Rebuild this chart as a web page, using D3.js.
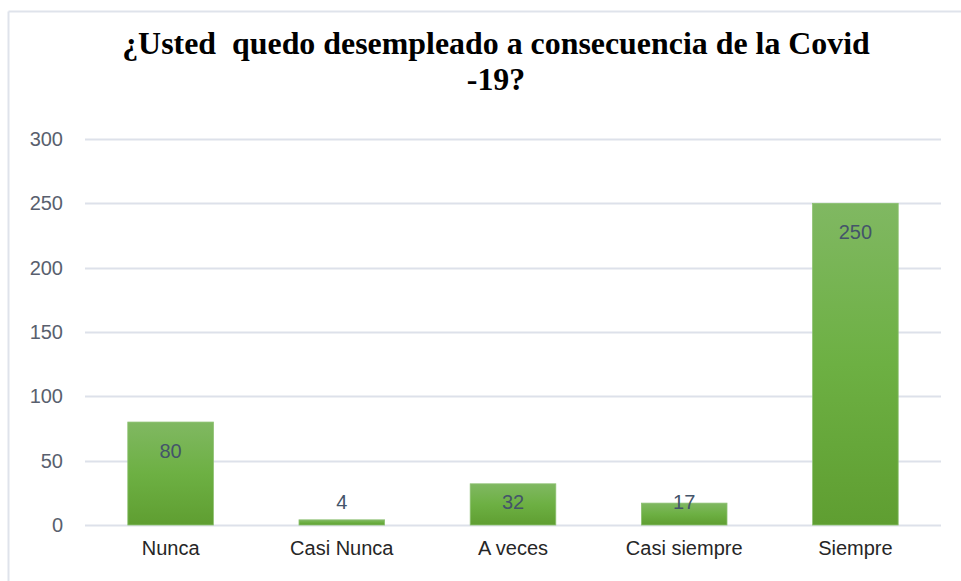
<html lang="es">
<head>
    <meta charset="UTF-8">
    <title>Desempleo Covid-19</title>
    <style>
        body { margin: 0; background: #fff; }
    </style>
</head>
<body>
<script src="https://d3js.org/d3.v7.min.js"></script>
<svg id="bar"></svg>
<script>
    // data
    var categories = ["Nunca", "Casi Nunca", "A veces", "Casi siempre", "Siempre"];
    var counts = [80, 4, 32, 17, 250];
    var yTicks = [0, 50, 100, 150, 200, 250, 300];
    var titleLines = ["¿Usted  quedo desempleado a consecuencia de la Covid", "-19?"];

    var outerWidth = 961, outerHeight = 581,
        margin = {top: 139, right: 20, bottom: 56, left: 85},
        width = 941 - margin.left,
        height = 525 - margin.top;

    var svg = d3.select("#bar")
        .attr("width", outerWidth)
        .attr("height", outerHeight);

    // chart frame (only top and left edges visible in the crop)
    svg.append("line")
        .attr("x1", 8.5).attr("x2", outerWidth).attr("y1", 11.5).attr("y2", 11.5)
        .attr("stroke", "#dfe3eb").attr("stroke-width", 2);
    svg.append("line")
        .attr("x1", 8.5).attr("x2", 8.5).attr("y1", 11.5).attr("y2", outerHeight)
        .attr("stroke", "#dfe3eb").attr("stroke-width", 2);

    // title
    var title = svg.append("g");
    title.selectAll("text")
        .data(titleLines)
        .enter().append("text")
            .attr("x", 0)
            .attr("y", (d, i) => i * 36)
            .attr("text-anchor", "middle")
            .style("white-space", "pre")
            .style("font-family", "'Liberation Serif', 'Times New Roman', serif")
            .style("font-weight", "bold")
            .style("font-size", "32px")
            .attr("fill", "#000")
            .text(d => d);
    var natural = title.select("text").node().getComputedTextLength();
    var sx = 748 / natural;
    title.attr("transform", `translate(496, 54) scale(${sx}, 1)`);

    var g = svg.append("g")
        .attr("transform", `translate(${margin.left}, ${margin.top})`);

    var x = d3.scaleBand()
        .domain(categories)
        .range([0, width])
        .paddingInner(0.5)
        .paddingOuter(0.25);

    var y = d3.scaleLinear()
        .domain([0, 300])
        .range([height, 0]);

    // gridlines
    g.append("g")
        .selectAll("line")
        .data(yTicks)
        .enter().append("line")
            .attr("x1", 0).attr("x2", width)
            .attr("y1", d => Math.round(y(d)) + 0.5)
            .attr("y2", d => Math.round(y(d)) + 0.5)
            .attr("stroke", "#dde1ea")
            .attr("stroke-width", 2);

    // y axis labels
    var yAxis = g.append("g")
        .attr("transform", "translate(-22, 0)")
        .call(d3.axisLeft(y).tickValues(yTicks).tickSize(0).tickPadding(0));
    yAxis.select(".domain").remove();
    yAxis.selectAll("text")
        .style("font-family", "'Liberation Sans', Arial, sans-serif")
        .style("font-size", "20px")
        .attr("fill", "#595f6e");

    // x axis labels
    var xAxis = g.append("g")
        .attr("transform", `translate(0, ${height})`)
        .call(d3.axisBottom(x).tickSize(0).tickPadding(16));
    xAxis.select(".domain").remove();
    xAxis.selectAll("text")
        .style("font-family", "'Liberation Sans', Arial, sans-serif")
        .style("font-size", "20px")
        .attr("fill", "#262626");

    // gradient for bars
    var grad = svg.append("defs").append("linearGradient")
        .attr("id", "barGrad")
        .attr("x1", 0).attr("x2", 0).attr("y1", 0).attr("y2", 1);
    grad.append("stop").attr("offset", "0%").attr("stop-color", "#80b862");
    grad.append("stop").attr("offset", "50%").attr("stop-color", "#6db043");
    grad.append("stop").attr("offset", "100%").attr("stop-color", "#5f9e31");

    var data = categories.map((c, i) => ({cat: c, val: counts[i]}));

    g.selectAll("rect.bar")
        .data(data)
        .enter().append("rect")
            .attr("class", "bar")
            .attr("x", d => x(d.cat))
            .attr("y", d => y(d.val))
            .attr("width", x.bandwidth())
            .attr("height", d => height - y(d.val))
            .attr("fill", "url(#barGrad)")
            .attr("stroke", "#8cc070")
            .attr("stroke-width", 0.8);

    // value labels: inside end, pushed up when the bar is short
    g.selectAll("text.val")
        .data(data)
        .enter().append("text")
            .attr("class", "val")
            .attr("x", d => x(d.cat) + x.bandwidth() / 2)
            .attr("y", d => Math.min(y(d.val) + 36, height - 16))
            .attr("text-anchor", "middle")
            .style("font-family", "'Liberation Sans', Arial, sans-serif")
            .style("font-size", "20px")
            .attr("fill", "#44546a")
            .text(d => d.val);
</script>
</body>
</html>
